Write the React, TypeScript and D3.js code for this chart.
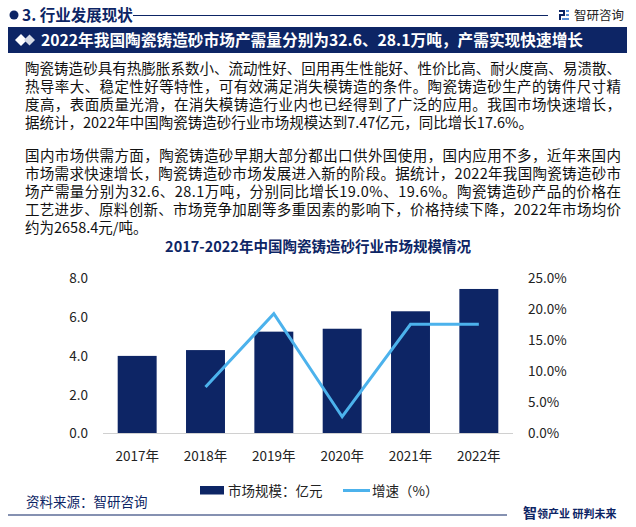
import React from 'react';
import * as d3 from 'd3';

const years = ['2017年', '2018年', '2019年', '2020年', '2021年', '2022年'];
const marketSize = [4.0, 4.3, 5.25, 5.4, 6.3, 7.45];
const growth: (number | null)[] = [null, 7.5, 19.3, 2.7, 17.6, 17.6];
const leftTicks = [0, 2, 4, 6, 8];
const rightTicks = [0, 5, 10, 15, 20, 25];

const headerText = '3. 行业发展现状';
const titleText = '2022年我国陶瓷铸造砂市场产需量分别为32.6、28.1万吨，产需实现快速增长';
const para1 = [
  '陶瓷铸造砂具有热膨胀系数小、流动性好、回用再生性能好、性价比高、耐火度高、易溃散、',
  '热导率大、稳定性好等特性，可有效满足消失模铸造的条件。陶瓷铸造砂生产的铸件尺寸精',
  '度高，表面质量光滑，在消失模铸造行业内也已经得到了广泛的应用。我国市场快速增长，',
  '据统计，2022年中国陶瓷铸造砂行业市场规模达到7.47亿元，同比增长17.6%。',
];
const para2 = [
  '国内市场供需方面，陶瓷铸造砂早期大部分都出口供外国使用，国内应用不多，近年来国内',
  '市场需求快速增长，陶瓷铸造砂市场发展进入新的阶段。据统计，2022年我国陶瓷铸造砂市',
  '场产需量分别为32.6、28.1万吨，分别同比增长19.0%、19.6%。陶瓷铸造砂产品的价格在',
  '工艺进步、原料创新、市场竞争加剧等多重因素的影响下，价格持续下降，2022年市场均价',
  '约为2658.4元/吨。',
];
const para1Widths = [596, 596, 596, 0];
const para2Widths = [596, 596, 596, 596, 0];
const chartTitle = '2017-2022年中国陶瓷铸造砂行业市场规模情况';
const legendBar = '市场规模：亿元';
const legendLine = '增速（%）';
const sourceText = '资料来源：智研咨询';

const NAVY = '#0d2565';
const BLUE = '#4cb2ec';
const FONT = '"Noto Sans CJK SC", "Noto Sans", sans-serif';

function Logo({ x, y, s, color }: { x: number; y: number; s: number; color: string }) {
  return (
    <g transform={`translate(${x},${y}) scale(${s})`} fill={color}>
      <rect x={0} y={0} width={6} height={2} />
      <rect x={4} y={0} width={2} height={5} />
      <rect x={0} y={4} width={6} height={2} />
      <rect x={0} y={4} width={2} height={6} />
      <rect x={0} y={8} width={2} height={2} />
      <rect x={7} y={0} width={3} height={2} fill="#5a8fd8" />
      <rect x={7} y={4} width={3} height={2} fill="#5a8fd8" />
      <rect x={3} y={8} width={7} height={2} fill="#5a8fd8" />
    </g>
  );
}

function Paragraph({ lines, widths, centers }: { lines: string[]; widths: number[]; centers: number[] }) {
  return (
    <text fontSize={14.5} fill="#111">
      {lines.map((t, i) => (
        <tspan
          key={i}
          x={25}
          y={centers[i] + 5.2}
          {...(widths[i] ? { textLength: widths[i], lengthAdjust: 'spacing' } : {})}
        >
          {t}
        </tspan>
      ))}
    </text>
  );
}

export default function App() {
  const x = d3
    .scaleBand<string>()
    .domain(years)
    .range([103, 513])
    .paddingInner(0.43)
    .paddingOuter(0.215);
  const yL = d3.scaleLinear().domain([0, 8]).range([433.5, 278.3]);
  const yR = d3.scaleLinear().domain([0, 25]).range([433.5, 278.3]);

  const linePts = years
    .map((yr, i) => ({ yr, v: growth[i] }))
    .filter((d) => d.v !== null) as { yr: string; v: number }[];
  const lineGen = d3
    .line<{ yr: string; v: number }>()
    .x((d) => (x(d.yr) as number) + x.bandwidth() / 2)
    .y((d) => yR(d.v));

  const p1Centers = [68.3, 86.3, 104.3, 122.3];
  const p2Centers = [155.5, 173.5, 191.5, 209.5, 227.5];

  return (
    <svg
      width={636}
      height={527}
      viewBox="0 0 636 527"
      style={{ position: 'absolute', left: 0, top: 0, background: '#fff' }}
      fontFamily={FONT}
    >
      <rect x={0} y={0} width={636} height={527} fill="#fff" />

      {/* header */}
      <circle cx={14} cy={15} r={4.5} fill={NAVY} />
      <text x={22} y={20.5} fontSize={15.5} fontWeight={700} fill={NAVY}>
        {headerText}
      </text>
      <line x1={133} x2={548} y1={15.5} y2={15.5} stroke={NAVY} strokeWidth={1} />
      <Logo x={559} y={10} s={1} color={NAVY} />
      <text x={574} y={19.5} fontSize={12.5} fill="#222">
        智研咨询
      </text>

      {/* title bar */}
      <rect x={8} y={27} width={619} height={26} fill={NAVY} />
      <path d="M15,40 L21,34 L27,40 L21,46 Z" fill="#fff" />
      <path d="M24,40 L29.5,34.5 L35,40 L29.5,45.5 Z" fill="#d6dbe6" />
      <text x={41} y={46} fontSize={15.7} fontWeight={700} fill="#fff">
        {titleText}
      </text>

      {/* paragraphs */}
      <Paragraph lines={para1} widths={para1Widths} centers={p1Centers} />
      <Paragraph lines={para2} widths={para2Widths} centers={p2Centers} />

      {/* chart title */}
      <text x={318} y={251.5} fontSize={14.5} fontWeight={700} fill={NAVY} textAnchor="middle">
        {chartTitle}
      </text>

      {/* axis labels */}
      <g fontSize={13.5} fill="#222">
        {leftTicks.map((t) => (
          <text key={'l' + t} x={88} y={yL(t) + 4.8} textAnchor="end">
            {d3.format('.1f')(t)}
          </text>
        ))}
        {rightTicks.map((t) => (
          <text key={'r' + t} x={528} y={yR(t) + 4.8} textAnchor="start">
            {d3.format('.1f')(t) + '%'}
          </text>
        ))}
        {years.map((yr) => (
          <text
            key={'x' + yr}
            x={(x(yr) as number) + x.bandwidth() / 2}
            y={460.5}
            textAnchor="middle"
          >
            {yr}
          </text>
        ))}
      </g>

      {/* bars */}
      {years.map((yr, i) => (
        <rect
          key={'bar' + yr}
          x={x(yr)}
          y={yL(marketSize[i])}
          width={x.bandwidth()}
          height={yL(0) - yL(marketSize[i])}
          fill={NAVY}
        />
      ))}

      {/* baseline */}
      <line x1={103} x2={513} y1={433.5} y2={433.5} stroke="#d0d0d0" strokeWidth={1} />

      {/* line */}
      <path d={lineGen(linePts) || ''} fill="none" stroke={BLUE} strokeWidth={3} strokeLinejoin="miter" />

      {/* legend */}
      <rect x={200} y={486} width={24} height={8.5} fill={NAVY} />
      <text x={228} y={495.5} fontSize={13.5} fill="#222">
        {legendBar}
      </text>
      <line x1={343} x2={370} y1={490.5} y2={490.5} stroke={BLUE} strokeWidth={3} />
      <text x={372} y={495.5} fontSize={13.5} fill="#222">
        {legendLine}
      </text>

      {/* footer */}
      <text x={26} y={507} fontSize={13.5} fill={NAVY}>
        {sourceText}
      </text>
      <line x1={8} x2={507} y1={515} y2={515} stroke={NAVY} strokeWidth={1.2} />
      <text x={523} y={518} fill={NAVY} fontWeight={700}>
        <tspan fontSize={14}>智</tspan>
        <tspan fontSize={11}>领产业 研判未来</tspan>
      </text>
    </svg>
  );
}
